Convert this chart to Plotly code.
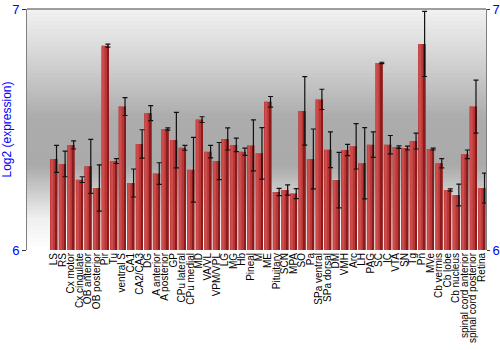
import plotly.graph_objects as go

categories = ["LS", "RS", "Cx motor", "Cx cingulate", "OB anterior", "OB posterior", "Pir", "Tu",
              "ventral S", "CA1", "CA2/CA3", "DG", "A anterior", "A posterior", "GP", "CPu lateral",
              "CPu medial", "MD", "VA/VL", "VPM/VPL", "LG", "MG", "Hb", "Pineal", "M", "ME",
              "Pituitary", "SCN", "MPA", "SO", "Pa", "SPa ventral", "SPa dorsal", "DM", "VMH", "Arc",
              "LH", "PAG", "SC", "IC", "VTA", "SN", "Tg", "Pn", "MVe", "Cb vermis", "Cb lobe",
              "Cb nucleus", "spinal cord anterior", "spinal cord posterior", "Retina"]

values = [6.378, 6.357, 6.436, 6.292, 6.347, 6.257, 6.848, 6.369,
          6.595, 6.278, 6.440, 6.568, 6.317, 6.502, 6.456, 6.424,
          6.333, 6.541, 6.408, 6.369, 6.461, 6.436, 6.408, 6.434, 6.401, 6.615,
          6.241, 6.249, 6.234, 6.577, 6.378, 6.625, 6.416, 6.290, 6.415, 6.430,
          6.360, 6.437, 6.776, 6.437, 6.427, 6.423, 6.452, 6.855, 6.419, 6.360, 6.249,
          6.228, 6.397, 6.595, 6.257]

errors = [0.056, 0.053, 0.017, 0.012, 0.112, 0.096, 0.006, 0.010,
          0.037, 0.058, 0.059, 0.031, 0.045, 0.005, 0.115, 0.010,
          0.134, 0.012, 0.026, 0.077, 0.046, 0.028, 0.015, 0.106, 0.107, 0.022,
          0.015, 0.021, 0.021, 0.142, 0.124, 0.042, 0.074, 0.115, 0.023, 0.094,
          0.148, 0.053, 0.003, 0.038, 0.005, 0.008, 0.033, 0.135, 0.004, 0.019, 0.005,
          0.045, 0.018, 0.110, 0.062]

y_ticks = [6, 7]
blue = "#0000ff"
font_family = "Liberation Sans, Arial, sans-serif"

fig = go.Figure()

# main bar (mid red)
fig.add_trace(go.Bar(
    x=categories, y=values, base=0,
    width=0.86, marker=dict(color="#b83636", line=dict(width=0)),
    hoverinfo="skip", showlegend=False,
))
# lighter left highlight
fig.add_trace(go.Bar(
    x=categories, y=values,
    width=0.3, offset=-0.36, marker=dict(color="#cc4c4c", line=dict(width=0)),
    hoverinfo="skip", showlegend=False,
))
# darker right shade
fig.add_trace(go.Bar(
    x=categories, y=values,
    width=0.2, offset=0.23, marker=dict(color="#8a1c1c", line=dict(width=0)),
    showlegend=False,
    error_y=dict(type="data", array=errors, visible=True, color="#111111",
                 thickness=1.2, width=2.5),
))
# invisible trace for right axis
fig.add_trace(go.Scatter(x=[categories[0]], y=[values[0]], yaxis="y2",
                         mode="markers", marker=dict(opacity=0), hoverinfo="skip",
                         showlegend=False))

# gradient background via overlapping stripes
shapes = []
n = 60
stops = [(0.0, 255), (0.13, 240), (0.35, 170), (0.55, 172), (0.75, 205), (1.0, 242)]
def shade(t):
    for (a, ca), (b, cb) in zip(stops[:-1], stops[1:]):
        if a <= t <= b:
            f = (t - a) / (b - a)
            return int(round(ca + (cb - ca) * f))
    return stops[-1][1]
for i in range(n):
    y0 = i / n
    y1 = min(1.0, (i + 1.6) / n)
    g = shade((i + 0.5) / n)
    shapes.append(dict(type="rect", xref="paper", yref="paper", x0=0, x1=1, y0=y0, y1=y1,
                       fillcolor=f"rgb({g},{g},{g})", line=dict(width=0), layer="below"))
shapes.append(dict(type="line", xref="paper", yref="paper", x0=0, x1=1, y0=1, y1=1,
                   line=dict(color="#808080", width=1.5)))

fig.update_layout(
    width=500, height=350,
    margin=dict(l=27, r=14, t=9, b=100),
    paper_bgcolor="white", plot_bgcolor="rgba(0,0,0,0)",
    barmode="overlay",
    bargap=0.1,
    shapes=shapes,
    font=dict(family=font_family, size=10, color="black"),
    xaxis=dict(type="category", tickangle=-90, tickfont=dict(size=10, color="black"),
               tickmode="array", tickvals=categories, ticktext=categories,
               showgrid=False, ticks="", showline=False, zeroline=False, automargin=False),
    yaxis=dict(range=[6, 7], tickvals=y_ticks, ticktext=[str(t) for t in y_ticks],
               tickfont=dict(size=13, color=blue), ticks="outside", ticklen=4,
               tickcolor="#333333", showgrid=False, zeroline=False, automargin=False,
               showline=True, linecolor="#808080", linewidth=1, mirror=False,
               title=dict(text="Log2 (expression)", font=dict(size=12, color=blue), standoff=2)),
    yaxis2=dict(range=[6, 7], tickvals=y_ticks, ticktext=[str(t) for t in y_ticks],
                overlaying="y", side="right", tickfont=dict(size=13, color=blue),
                ticks="outside", ticklen=3, tickcolor="#333333", showgrid=False,
                automargin=False,
                zeroline=False, showline=True, linecolor="#808080", linewidth=1),
)

fig.write_html("out.html")
